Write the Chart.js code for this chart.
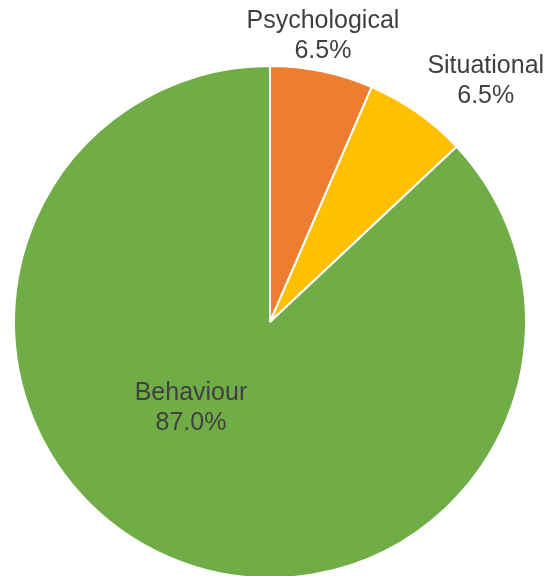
<!DOCTYPE html>
<html>
<head>
<meta charset="utf-8">
<script src="https://cdn.jsdelivr.net/npm/chart.js@4/dist/chart.umd.min.js"></script>
<style>
  html, body { margin: 0; padding: 0; background: #ffffff; overflow: hidden; }
  #wrap { width: 547px; height: 576px; position: relative; overflow: hidden; }
  canvas { display: block; }
</style>
</head>
<body>
<div id="wrap"><canvas id="c" width="547" height="580"></canvas></div>
<script>
const categories = ["Psychological", "Situational", "Behaviour"];
const shares = [6.5, 6.5, 87.0];
const sliceColors = ["#ED7D31", "#FFC000", "#70AD47"];

// label placement relative to each slice: angle shift (degrees) and radius factor
const labelPlacement = [
  { dAngle: -1.2, rFactor: 1.135 },
  { dAngle: 6.8, rFactor: 1.262 },
  { dAngle: 19.0, rFactor: 0.458 }
];

const pieLabels = {
  id: 'pieLabels',
  afterDatasetsDraw(chart) {
    const ctx = chart.ctx;
    const meta = chart.getDatasetMeta(0);
    ctx.save();
    ctx.font = '25px "Liberation Sans", Arial, sans-serif';
    ctx.fillStyle = '#404040';
    ctx.textAlign = 'center';
    ctx.textBaseline = 'middle';
    const lineH = 30;
    meta.data.forEach((arc, i) => {
      const p = arc.getProps(['x', 'y', 'startAngle', 'endAngle', 'outerRadius'], true);
      const mid = (p.startAngle + p.endAngle) / 2 + labelPlacement[i].dAngle * Math.PI / 180;
      const r = p.outerRadius * labelPlacement[i].rFactor;
      const cx = p.x + Math.cos(mid) * r;
      const cy = p.y + Math.sin(mid) * r;
      const lines = [categories[i], shares[i].toFixed(1) + '%'];
      ctx.fillText(lines[0], cx, cy - lineH / 2);
      ctx.fillText(lines[1], cx, cy + lineH / 2);
    });
    ctx.restore();
  }
};

new Chart(document.getElementById('c'), {
  type: 'pie',
  data: {
    labels: categories,
    datasets: [{
      data: shares,
      backgroundColor: sliceColors,
      borderColor: '#ffffff',
      borderWidth: 2,
      hoverOffset: 0
    }]
  },
  options: {
    responsive: false,
    animation: false,
    layout: { padding: { left: 13, right: 20, top: 65, bottom: 1 } },
    plugins: {
      legend: { display: false },
      tooltip: { enabled: false }
    }
  },
  plugins: [pieLabels]
});
</script>
</body>
</html>
